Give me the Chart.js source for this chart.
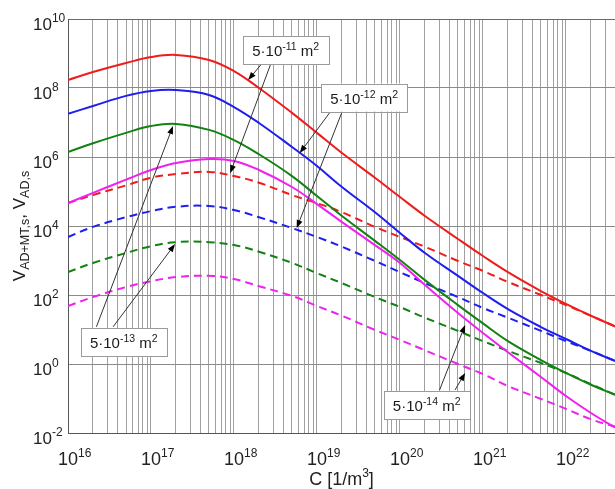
<!DOCTYPE html>
<html><head><meta charset="utf-8">
<style>html,body{margin:0;padding:0;background:#fff}#wrap{width:615px;height:489px;position:relative}</style>
<script src="https://cdn.jsdelivr.net/npm/chart.js@4.4.1/dist/chart.umd.min.js"></script>
</head><body><div id="wrap"><canvas id="c" width="615" height="489"></canvas></div>
<script>
// ---- data ----
const concentration = [1e16, 2e16, 5e16, 1e17, 2e17, 5e17, 1e18, 2e18, 5e18, 1e19, 2e19, 5e19, 1e20, 2e20, 5e20, 1e21, 2e21, 5e21, 1e22, 2e22, 4e22];

const red11Solid   = [1.7e8, 2.9e8, 5.3e8, 7.9e8, 9.1e8, 6.5e8, 3.1e8, 1.0e8, 1.9e7, 5.0e6, 1.3e6, 2.5e5, 6.9e4, 1.95e4, 4.2e3, 1.35e3, 4.6e2, 1.3e2, 55, 25, 12];
const blue12Solid  = [1.8e7, 3.0e7, 5.9e7, 8.2e7, 8.7e7, 6.3e7, 2.8e7, 9.7e6, 1.95e6, 5.5e5, 1.35e5, 2.5e4, 6.3e3, 1.65e3, 3.6e2, 1.14e2, 39, 11.8, 5.3, 2.4, 1.2];
const green13Solid = [1.4e6, 2.5e6, 5.0e6, 7.9e6, 9.1e6, 6.1e6, 3.1e6, 1.2e6, 2.8e5, 7.4e4, 1.95e4, 3.7e3, 1.03e3, 2.7e2, 51, 15, 4.6, 1.3, 0.55, 0.25, 0.126];
const mag14Solid   = [4.6e4, 9.1e4, 2.2e5, 4.2e5, 6.7e5, 8.7e5, 7.7e5, 4.2e5, 1.35e5, 4.3e4, 1.3e4, 2.8e3, 8.5e2, 1.95e2, 30, 7.9, 2.2, 0.42, 0.118, 0.038, 0.014];

const red11Dash    = [4.6e4, 7.9e4, 1.5e5, 2.5e5, 3.2e5, 3.7e5, 2.8e5, 1.8e5, 7.9e4, 4.6e4, 2.5e4, 9.4e3, 4.8e3, 2.5e3, 9.7e2, 5.0e2, 2.4e2, 1.0e2, 51, 25, 12];
const blue12Dash   = [4.8e3, 9.4e3, 1.8e4, 2.7e4, 3.6e4, 3.8e4, 2.9e4, 1.8e4, 8.7e3, 4.8e3, 2.5e3, 9.7e2, 4.6e2, 2.2e2, 87, 42, 22, 9.1, 4.6, 2.4, 1.2];
const green13Dash  = [4.6e2, 8.5e2, 1.65e3, 2.6e3, 3.4e3, 3.4e3, 2.8e3, 1.8e3, 8.5e2, 4.3e2, 2.2e2, 87, 45, 22, 9.1, 4.6, 2.4, 1.07, 0.55, 0.26, 0.126];
const mag14Dash    = [48, 87, 1.7e2, 2.5e2, 3.3e2, 3.6e2, 2.9e2, 1.8e2, 94, 48, 25, 9.7, 5.0, 2.5, 1.0, 0.51, 0.23, 0.097, 0.050, 0.025, 0.015];

const xTickExponents = [16, 17, 18, 19, 20, 21, 22];
const yTickExponents = [-2, 0, 2, 4, 6, 8, 10];
const xRange = [1e16, 3.9e22];
const yRange = [1e-2, 1e10];

const areaExponents = ['-11', '-12', '-13', '-14'];   // labels "5·10^e m^2"
// label box centres and arrows [fromC, fromV, toC, toV], in data units
const labelCentres = [[4.2e18, 1.26e9], [3.7e19, 5.3e7], [4.7e16, 4.3], [2.1e20, 0.065]];
const labelArrows = [
  [[2.2e18, 5.3e8, 1.48e18, 1.7e8], [2.8e18, 5.3e8, 9.0e17, 3.4e5]],
  [[1.44e19, 2.0e7, 6.2e18, 1.3e6], [2.0e19, 2.0e7, 5.7e18, 8.7e3]],
  [[2.2e16, 12, 1.84e17, 7.9e6], [3.5e16, 12, 1.95e17, 3.0e3]],
  [[3.0e20, 0.176, 6.1e20, 13.5], [4.6e20, 0.176, 6.1e20, 0.55]]
];

// ---- helpers ----
const isPow10 = v => Math.abs(Math.log10(v) - Math.round(Math.log10(v))) < 1e-9;
const FONT = "'Liberation Sans', Arial, sans-serif";
const RED = '#f01c1c', BLUE = '#1e1ef0', GREEN = '#128212', MAG = '#f020f0';

function ds(data, color, dashed) {
  return {
    data: concentration.map((c, i) => ({x: c, y: data[i]})),
    borderColor: color, backgroundColor: color, borderWidth: 2,
    borderDash: dashed ? [8, 5] : [], pointRadius: 0, fill: false,
    tension: 0.4
  };
}
// draw text pieces [text, size, dy]
function rich(ctx, x, y, parts, align) {
  let w = 0;
  parts.forEach(p => { ctx.font = p[1] + 'px ' + FONT; p.w = ctx.measureText(p[0]).width; w += p.w; });
  let xx = align === 'center' ? x - w / 2 : (align === 'right' ? x - w : x);
  ctx.textAlign = 'left';
  parts.forEach(p => { ctx.font = p[1] + 'px ' + FONT; ctx.fillText(p[0], xx, y + p[2]); xx += p.w; });
  return w;
}

const xTickValues = [];
xTickExponents.forEach(e => { for (let m = 1; m <= 9; m++) { const v = m * Math.pow(10, e); if (v <= xRange[1] * 1.0001) xTickValues.push(v); } });

const overlay = {
  id: 'overlay',
  afterDatasetsDraw(chart) {
    const ctx = chart.ctx, xs = chart.scales.x, ys = chart.scales.y, ca = chart.chartArea;
    const px = v => xs.getPixelForValue(v), py = v => ys.getPixelForValue(v);
    ctx.save();
    ctx.textBaseline = 'alphabetic';
    // arrows
    labelArrows.forEach(list => list.forEach(a => {
      const x1 = px(a[0]), y1 = py(a[1]), x2 = px(a[2]), y2 = py(a[3]);
      const ang = Math.atan2(y2 - y1, x2 - x1), L = 8, W = 3;
      ctx.strokeStyle = '#333'; ctx.lineWidth = 1; ctx.setLineDash([]);
      ctx.beginPath(); ctx.moveTo(x1, y1); ctx.lineTo(x2 - L * 0.8 * Math.cos(ang), y2 - L * 0.8 * Math.sin(ang)); ctx.stroke();
      ctx.fillStyle = '#000';
      ctx.beginPath(); ctx.moveTo(x2, y2);
      ctx.lineTo(x2 - L * Math.cos(ang) + W * Math.sin(ang), y2 - L * Math.sin(ang) - W * Math.cos(ang));
      ctx.lineTo(x2 - L * Math.cos(ang) - W * Math.sin(ang), y2 - L * Math.sin(ang) + W * Math.cos(ang));
      ctx.closePath(); ctx.fill();
    }));
    // label boxes
    labelCentres.forEach((c, i) => {
      const cx = px(c[0]), cy = py(c[1]), w = 86, h = 28;
      ctx.fillStyle = '#fff'; ctx.fillRect(cx - w / 2, cy - h / 2, w, h);
      ctx.strokeStyle = '#9a9a9a'; ctx.lineWidth = 1;
      ctx.strokeRect(Math.round(cx - w / 2) + 0.5, Math.round(cy - h / 2) + 0.5, w, h);
      ctx.fillStyle = '#1a1a1a';
      rich(ctx, cx, cy + 6, [['5·10', 15, 0], [areaExponents[i], 10.5, -6], [' m', 15, 0], ['2', 10.5, -6]], 'center');
    });
    ctx.fillStyle = '#222';
    // x tick labels (powers of ten)
    xs.ticks.forEach(t => {
      if (!isPow10(t.value)) return;
      const x = px(t.value), e = String(Math.round(Math.log10(t.value)));
      ctx.font = '18px ' + FONT;
      const bw = ctx.measureText('10').width;
      ctx.textAlign = 'center'; ctx.fillText('10', x, 465);
      ctx.font = '12px ' + FONT; ctx.textAlign = 'left'; ctx.fillText(e, x + bw / 2, 457);
    });
    // y tick labels
    ys.ticks.forEach(t => {
      const y = py(t.value), e = String(Math.round(Math.log10(t.value)));
      rich(ctx, 33, y + 11, [['10', 17, 0], [e, 12, -8]], 'left');
    });
    // x title
    rich(ctx, (ca.left + ca.right) / 2, 485, [['C [1/m', 18, 0], ['3', 12, -8], [']', 18, 0]], 'center');
    // y title (rotated, with subscripts)
    ctx.translate(25, (ca.top + ca.bottom) / 2);
    ctx.rotate(-Math.PI / 2);
    rich(ctx, 0, 0, [['V', 17, 0], ['AD+MT,s', 12.5, 4], [', V', 17, 0], ['AD,s', 12.5, 4]], 'center');
    ctx.restore();
  }
};

new Chart(document.getElementById('c'), {
  type: 'line',
  data: {
    datasets: [
      ds(red11Solid, RED, false), ds(blue12Solid, BLUE, false), ds(green13Solid, GREEN, false), ds(mag14Solid, MAG, false),
      ds(red11Dash, RED, true), ds(blue12Dash, BLUE, true), ds(green13Dash, GREEN, true), ds(mag14Dash, MAG, true)
    ]
  },
  options: {
    responsive: false, animation: false, devicePixelRatio: 1,
    layout: {padding: {top: 19, right: 0, left: 0, bottom: 0}},
    plugins: {legend: {display: false}, tooltip: {enabled: false}},
    scales: {
      x: {
        type: 'logarithmic', min: xRange[0], max: xRange[1],
        afterBuildTicks: s => { s.ticks = xTickValues.map(v => ({value: v})); },
        afterFit: s => { s.height = 56; },
        grid: {color: '#a0a0a0', lineWidth: 1, drawTicks: false},
        border: {color: '#555', width: 1},
        ticks: {display: false, autoSkip: false, maxRotation: 0, minRotation: 0}
      },
      y: {
        type: 'logarithmic', min: yRange[0], max: yRange[1],
        afterBuildTicks: s => { s.ticks = yTickExponents.map(e => ({value: Math.pow(10, e)})); },
        afterFit: s => { s.width = 68; },
        grid: {color: c => (c.tick && c.tick.value >= 1e10) ? '#6a6a6a' : '#8a8a8a', lineWidth: 1, drawTicks: false},
        border: {color: '#555', width: 1},
        ticks: {display: false, autoSkip: false}
      }
    }
  },
  plugins: [overlay]
});
</script></body></html>
